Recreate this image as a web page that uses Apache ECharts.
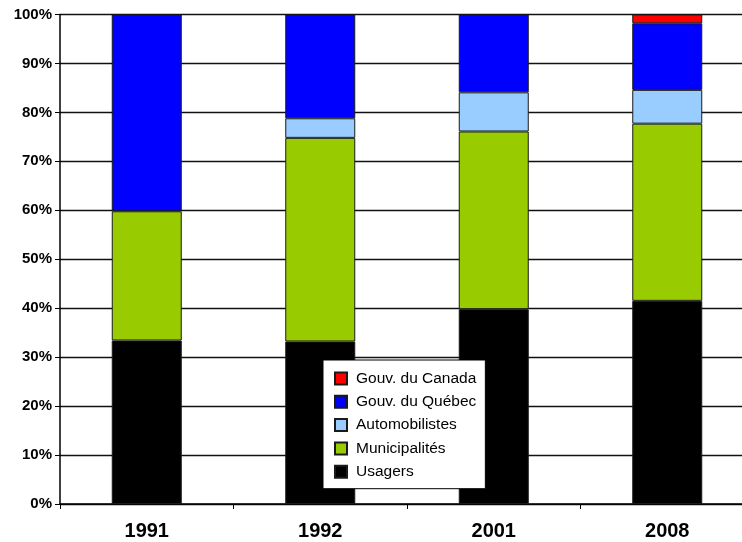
<!DOCTYPE html>
<html><head><meta charset="utf-8">
<script src="https://cdn.jsdelivr.net/npm/echarts@6/dist/echarts.min.js"></script>
<style>html,body{margin:0;padding:0;background:#fff}#c{width:742px;height:542px}</style>
</head><body><div id="c"></div>
<script>
const categories = ['1991', '1992', '2001', '2008'];
const usagers = [33.4, 33.2, 39.8, 41.5];
const municipalites = [26.4, 41.6, 36.3, 36.2];
const automobilistes = [null, 4.0, 8.0, 6.9];
const gouvQuebec = [40.2, 21.2, 15.9, 13.6];
const gouvCanada = [null, null, null, 1.8];
const yTicks = [0, 10, 20, 30, 40, 50, 60, 70, 80, 90, 100];

const FONT = 'Arial, "Liberation Sans", sans-serif';
function bar(name, data, color) {
  return {
    name, type: 'bar', stack: 'total', data, barWidth: 70,
    itemStyle: { color, borderColor: '#1a1a1a', borderWidth: 1 },
    emphasis: { disabled: true }
  };
}
const chart = echarts.init(document.getElementById('c'), null, { renderer: 'canvas' });
chart.setOption({
  animation: false,
  backgroundColor: '#fff',
  grid: { left: 60, width: 694, top: 14.5, bottom: 38, containLabel: false, outerBoundsMode: 'none' },
  legend: {
    orient: 'vertical', left: 323, top: 360,
    data: ['Gouv. du Canada', 'Gouv. du Québec', 'Automobilistes', 'Municipalités', 'Usagers'],
    itemWidth: 12, itemHeight: 12, itemGap: 7.3,
    padding: [10.5, 9, 9, 11],
    backgroundColor: '#fff', borderColor: '#000', borderWidth: 1,
    icon: 'rect',
    textStyle: { fontFamily: FONT, fontSize: 15.5, color: '#000', padding: [0, 0, 0, 4] }
  },
  xAxis: {
    type: 'category', data: categories,
    axisLine: { lineStyle: { color: '#000', width: 1.5 } },
    axisTick: { show: true, length: 5, lineStyle: { color: '#000' } },
    axisLabel: { fontFamily: FONT, fontSize: 20, fontWeight: 'bold', color: '#000', margin: 17 },
    splitLine: { show: false }
  },
  yAxis: {
    type: 'value', min: yTicks[0], max: yTicks[yTicks.length - 1], interval: yTicks[1] - yTicks[0],
    axisLine: { show: true, lineStyle: { color: '#000', width: 1.5 } },
    axisTick: { show: true, length: 5, lineStyle: { color: '#000' } },
    axisLabel: { fontFamily: FONT, fontSize: 15, fontWeight: 'bold', color: '#000', margin: 8, formatter: '{value}%' },
    splitLine: { show: true, lineStyle: { color: '#111', width: 1.3 } }
  },
  series: [
    bar('Usagers', usagers, '#000000'),
    bar('Municipalités', municipalites, '#99CC00'),
    bar('Automobilistes', automobilistes, '#99CCFF'),
    bar('Gouv. du Québec', gouvQuebec, '#0000FF'),
    bar('Gouv. du Canada', gouvCanada, '#FF0000')
  ]
});
</script></body></html>
